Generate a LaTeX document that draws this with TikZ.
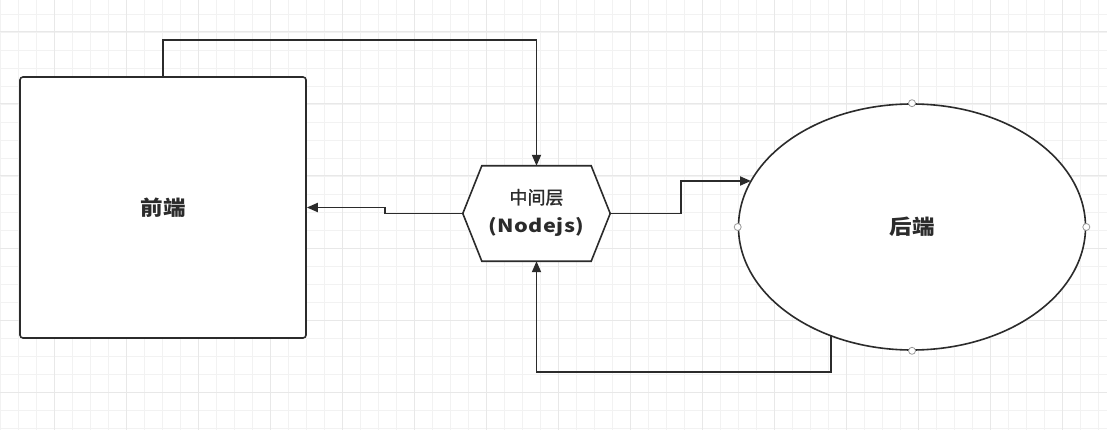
\documentclass[tikz,border=0pt]{standalone}
\usepackage{fontspec}
\newfontfamily\cjk[FakeStretch=1.1]{Noto Sans CJK SC}
\newfontfamily\cjkm[FakeBold=1.5]{Noto Sans CJK SC}
\newfontfamily\cjkw[FakeStretch=1.2]{Noto Sans CJK SC}
\usetikzlibrary{arrows.meta,shapes.geometric}
\definecolor{gridminor}{HTML}{F2F2F2}
\definecolor{gridmajor}{HTML}{E8E8E8}
\definecolor{linecol}{HTML}{2B2B2B}
\tikzset{
  conn/.style={draw=linecol,line width=1.8pt,-{Triangle[length=11pt,width=9pt]}},
  shp/.style={draw=linecol,line width=1.6pt,fill=white},
  handle/.style={circle,draw=gray!80,fill=white,line width=0.8pt,minimum size=7pt,inner sep=0pt},
}
\begin{document}
\begin{tikzpicture}[x=1pt,y=-1pt]
\useasboundingbox (0,0) rectangle (1107,430);
\fill[white] (0,0) rectangle (1107,430);
% grid
\foreach \i in {0,...,61} {\draw[gridminor,line width=0.8pt] (\i*18,0) -- (\i*18,430);}
\foreach \i in {0,...,23} {\draw[gridminor,line width=0.8pt] (0,14+\i*18) -- (1107,14+\i*18);}
\foreach \i in {0,...,15} {\draw[gridmajor,line width=1pt] (54+\i*72,0) -- (54+\i*72,430);}
\foreach \i in {0,...,5} {\draw[gridmajor,line width=1pt] (0,32+\i*72) -- (1107,32+\i*72);}
% shapes
\node[shp,rounded corners=3pt,minimum width=286pt,minimum height=261pt,inner sep=0pt,
  font=\cjk\bfseries\fontsize{20.5}{24}\selectfont,text=linecol] (fe) at (163,207.5) {前端};
\node[shp,ellipse,minimum width=347pt,minimum height=246pt,inner sep=0pt,
  font=\cjk\bfseries\fontsize{20.5}{24}\selectfont,text=linecol] (be) at (912,227) {后端};
\node[minimum width=147pt,minimum height=95pt,inner sep=0pt] (hx) at (536.5,213.5) {};
\draw[shp] (hx.west) -- ([xshift=19pt]hx.north west) -- ([xshift=-19pt]hx.north east)
  -- (hx.east) -- ([xshift=-19pt]hx.south east) -- ([xshift=19pt]hx.south west) -- cycle;
\node[align=center,font=\fontsize{18}{28}\selectfont,text=linecol] (hxt) at ([yshift=1pt]hx.center)
  {{\cjkm 中间层}\\{\cjkw\bfseries\addfontfeature{LetterSpace=2}(Nodejs)}};
% handles
\node[handle] (h1) at (be.north) {};
\node[handle] (h2) at (be.south) {};
\node[handle] (h3) at (be.west) {};
\node[handle] (h4) at (be.east) {};
% connectors
\coordinate (ein) at (751,181);
\coordinate (bs) at (831,336);
\draw[conn] (fe.north) -- ++(0,-36) -| (hx.north);
\draw[conn] (hx.west) -- ++(-78,0) |- (fe.east);
\draw[conn] (hx.east) -- ++(71,0) |- (ein);
\draw[conn] (bs) -- ++(0,36) -| (hx.south);
\end{tikzpicture}
\end{document}
